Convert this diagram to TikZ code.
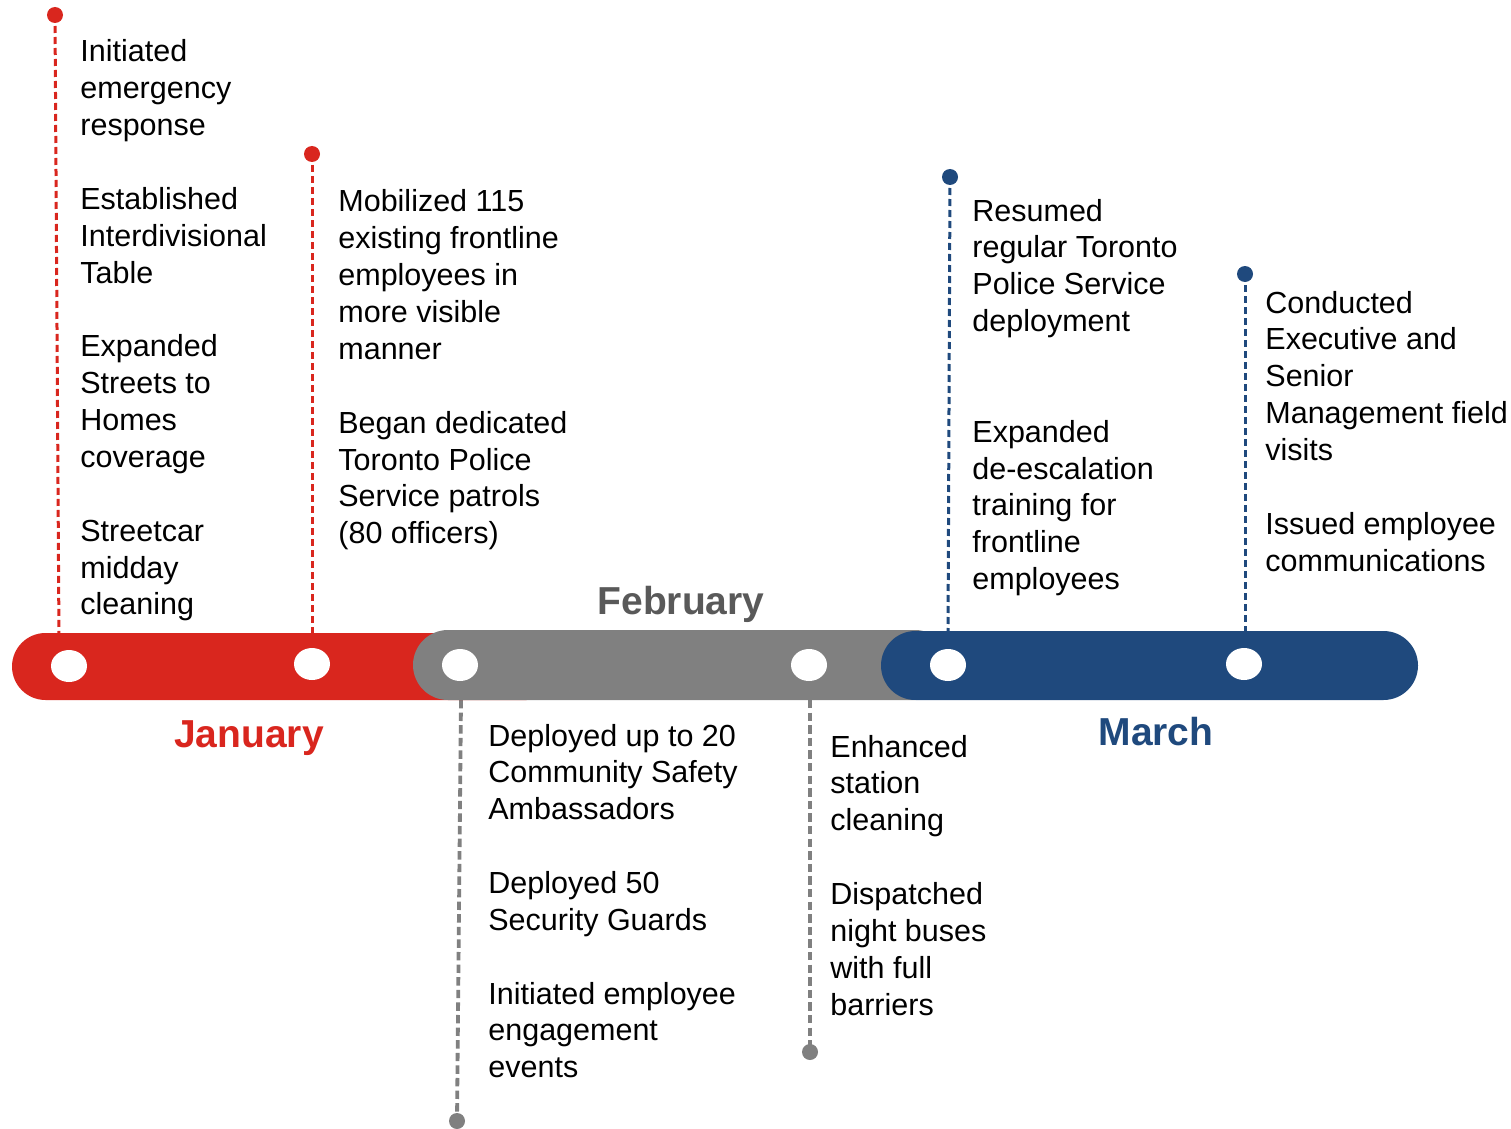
\documentclass[tikz,border=0pt]{standalone}
\usepackage{fontspec}
\setmainfont{Liberation Sans}
\usetikzlibrary{shapes.geometric}
\definecolor{jan}{HTML}{D9261E}
\definecolor{feb}{HTML}{808080}
\definecolor{mar}{HTML}{1F497D}
\definecolor{febtxt}{HTML}{595959}
\newcommand\evlines[1]{\parbox[t]{260pt}{\raggedright #1}}
\begin{document}
\begin{tikzpicture}[x=0.5pt,y=-0.5pt,
  txt/.style={anchor=base west, inner sep=0pt, font=\fontsize{15.25}{18.43}\selectfont},
  month/.style={anchor=base, inner sep=0pt, font=\fontsize{19.5}{23}\selectfont\bfseries},
  evdash/.style={line width=1.5pt, dash pattern=on 3.5pt off 2pt, draw=#1},
  evdashg/.style={line width=1.9pt, dash pattern=on 4.2pt off 2.1pt, draw=#1},
  enddot/.style={circle, inner sep=0pt, minimum size=8pt, fill=#1},
  hole/.style={ellipse, fill=white, inner sep=0pt, minimum width=18pt, minimum height=16pt}]
\useasboundingbox (0,0) rectangle (1511,1129);

% end dots and bar-side coordinates
\node[enddot=jan] (dj1) at (55,15) {};
\node[enddot=jan] (dj2) at (312,154) {};
\node[enddot=feb] (df1) at (457,1121) {};
\node[enddot=feb] (df2) at (810,1052) {};
\node[enddot=mar] (dm1) at (950,177) {};
\node[enddot=mar] (dm2) at (1245,274) {};
\coordinate (bj1) at (59,640);
\coordinate (bj2) at (312,640);
\coordinate (bf1) at (461,700);
\coordinate (bf2) at (810,700);
\coordinate (bm1) at (948,640);
\coordinate (bm2) at (1245,640);

% dashed connectors
\draw[evdash=jan] (dj1.center) -- (bj1);
\draw[evdash=jan] (dj2.center) -- (bj2);
\draw[evdashg=feb] (bf1) -- (df1.center);
\draw[evdashg=feb] (bf2) -- (df2.center);
\draw[evdash=mar] (dm1.center) -- (bm1);
\draw[evdash=mar] (dm2.center) -- (bm2);

% bars
\fill[jan, rounded corners=16.75pt] (12,633) rectangle (560,700);
\fill[feb, rounded corners=17.5pt] (413,630) rectangle (950,700);
\fill[mar, rounded corners=17.25pt] (881,631) rectangle (1418,700);

% holes
\node[hole] (hj1) at (69,666) {};
\node[hole] (hj2) at (312,664) {};
\node[hole] (hf1) at (460,665) {};
\node[hole] (hf2) at (809,665) {};
\node[hole] (hm1) at (948,665) {};
\node[hole] (hm2) at (1244,664) {};

% month labels
\node[month, text=jan] (lj) at (249,747) {January};
\node[month, text=febtxt] (lf) at (681,614) {February};
\node[month, text=mar] (lm) at (1156,745) {March};

% texts
\node[txt] (tj1) at (80,62) {\evlines{Initiated\\emergency\\response\\[18.43pt]Established\\Interdivisional\\Table\\[18.43pt]Expanded\\Streets to\\Homes\\coverage\\[18.43pt]Streetcar\\midday\\cleaning}};
\node[txt] (tj2) at (338,212) {\evlines{Mobilized 115\\existing frontline\\employees in\\more visible\\manner\\[18.43pt]Began dedicated\\Toronto Police\\Service patrols\\(80 officers)}};
\node[txt] (tf1) at (488,746) {\evlines{Deployed up to 20\\Community Safety\\Ambassadors\\[18.43pt]Deployed 50\\Security Guards\\[18.43pt]Initiated employee\\engagement\\events}};
\node[txt] (tf2) at (830,757) {\evlines{Enhanced\\station\\cleaning\\[18.43pt]Dispatched\\night buses\\with full\\barriers}};
\node[txt] (tm1) at (972,221) {\evlines{Resumed\\regular Toronto\\Police Service\\deployment\\[36.86pt]Expanded\\de-escalation\\training for\\frontline\\employees}};
\node[txt] (tm2) at (1265,313) {\evlines{Conducted\\Executive and\\Senior\\Management field\\visits\\[18.43pt]Issued employee\\communications}};
\end{tikzpicture}
\end{document}
